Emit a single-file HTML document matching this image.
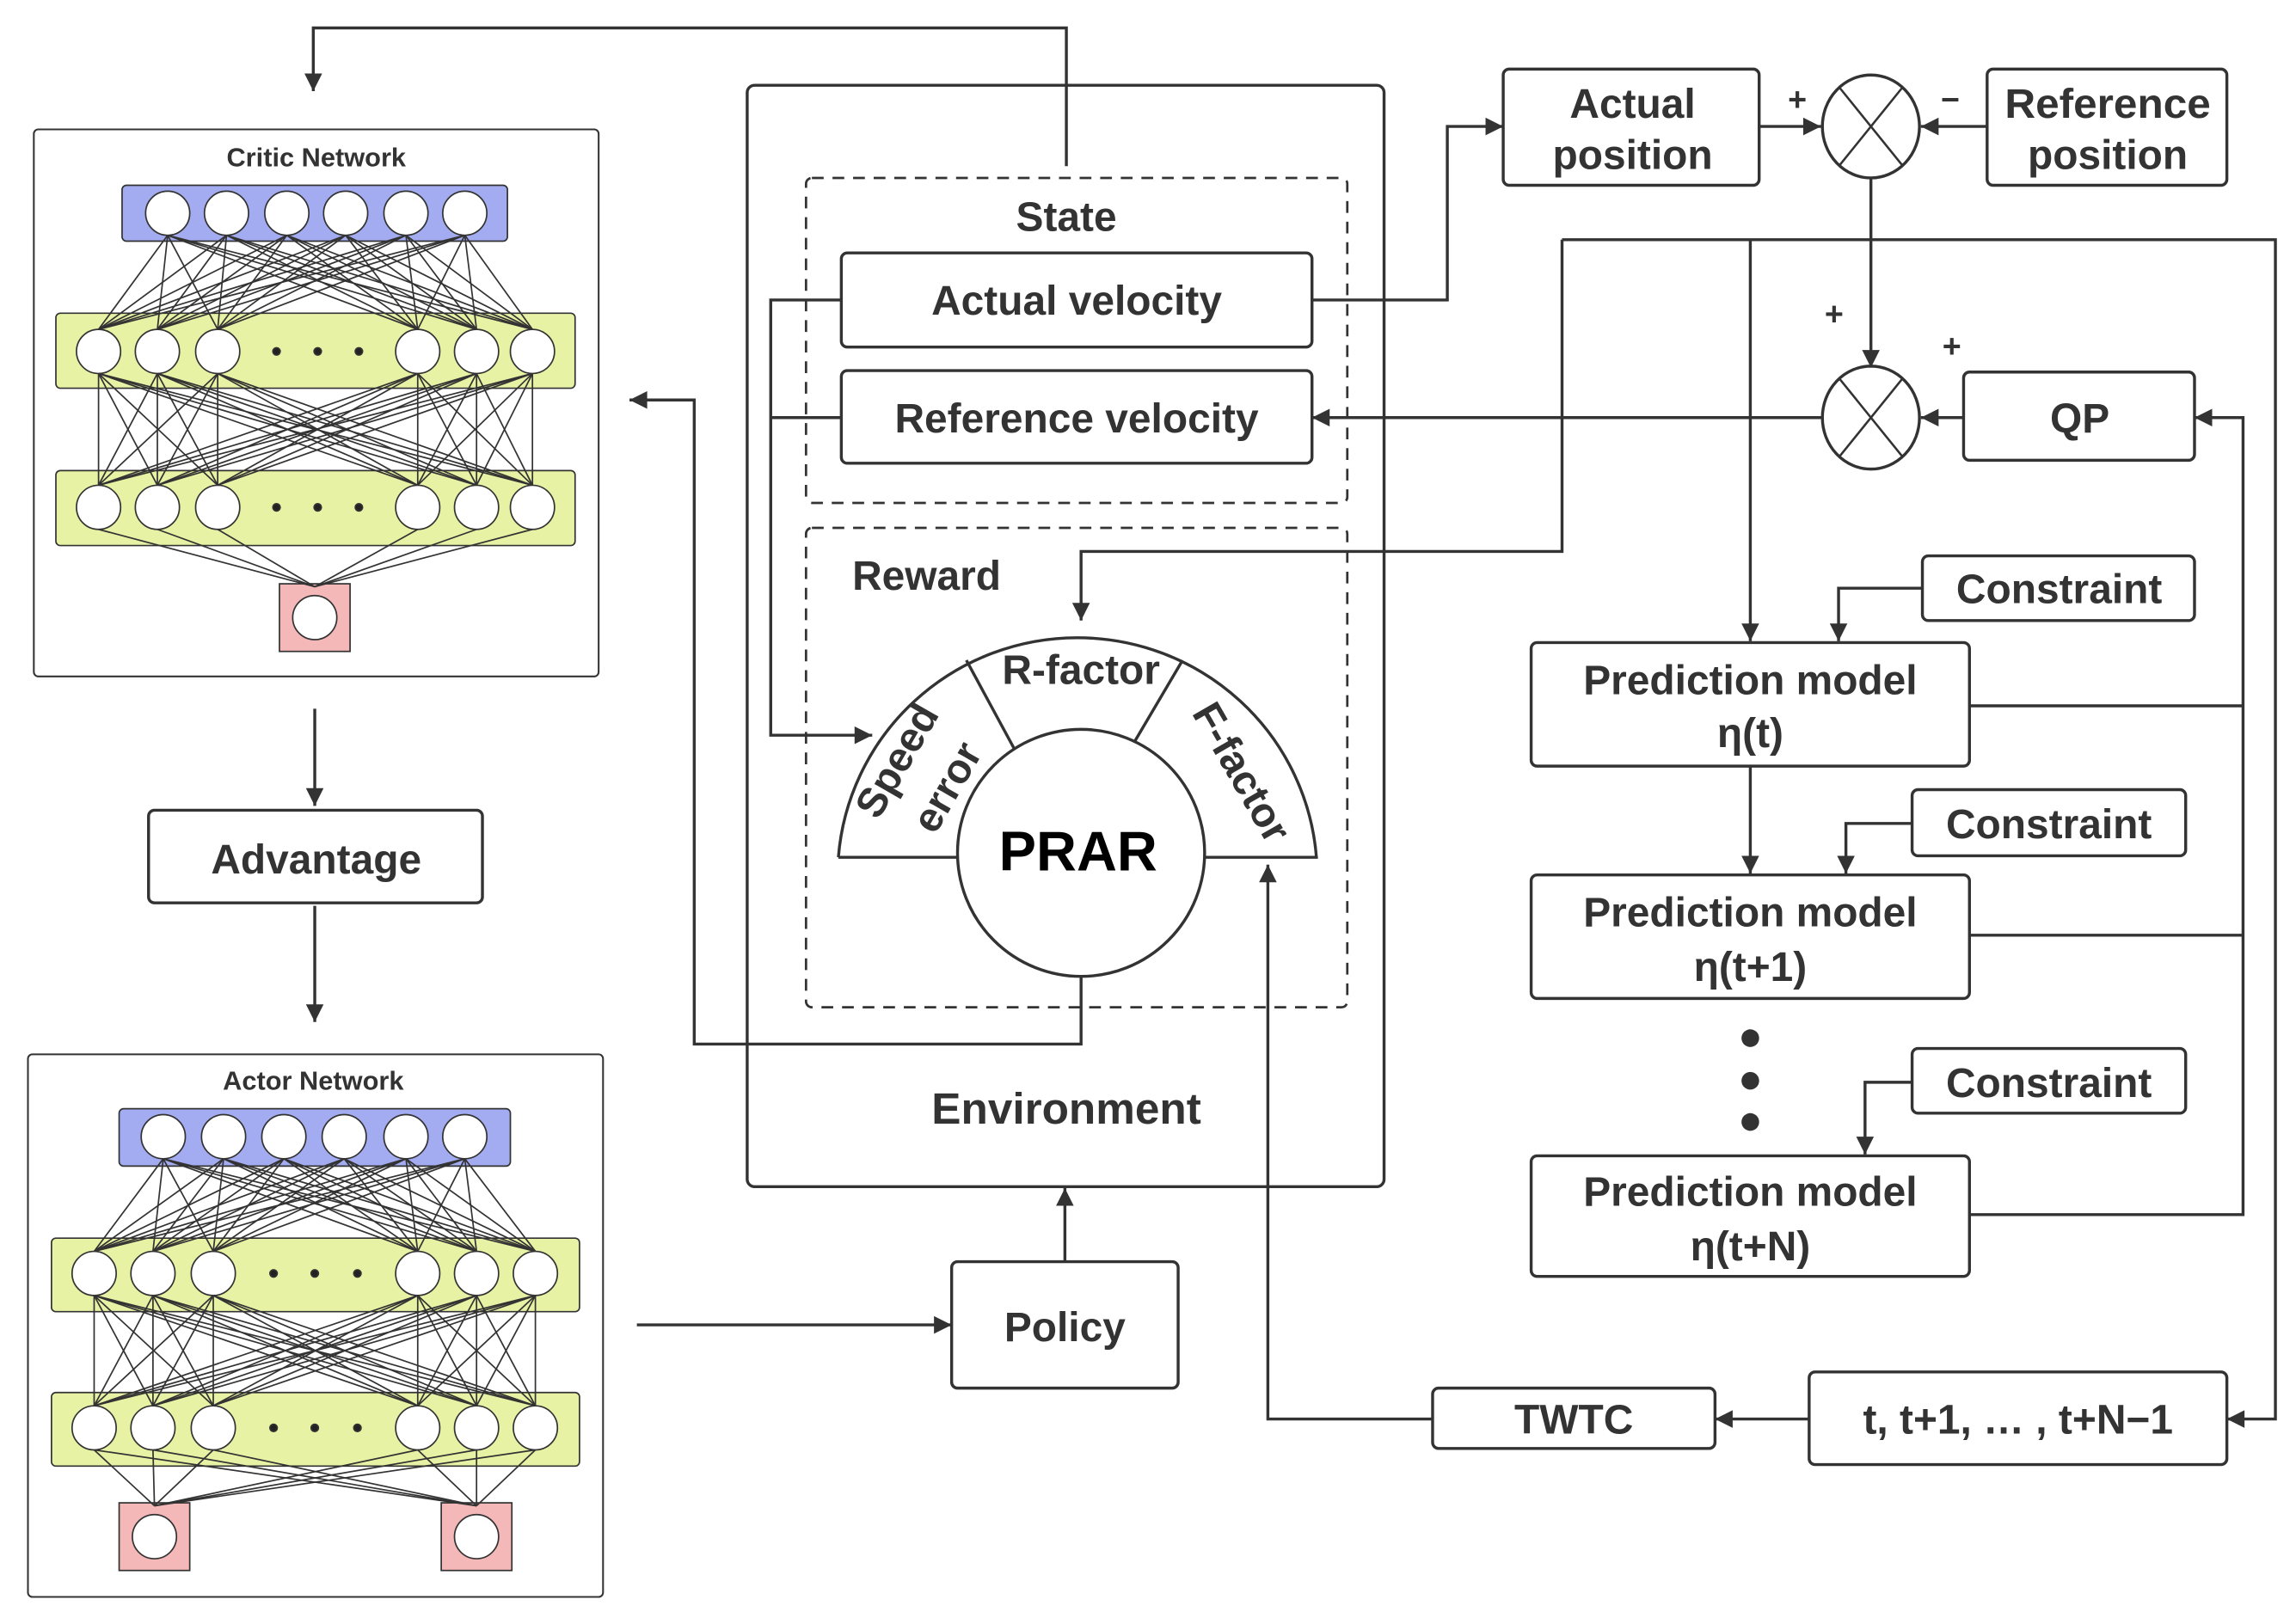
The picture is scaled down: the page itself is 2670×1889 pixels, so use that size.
<!DOCTYPE html>
<html><head><meta charset="utf-8"><style>
html,body{margin:0;padding:0;background:#fff}
svg{display:block}
text{font-family:"Liberation Sans",sans-serif;font-weight:bold;fill:#333}
</style></head><body>
<svg id="s" width="2670" height="1889" viewBox="0 0 1561 1104.4" preserveAspectRatio="none" xmlns="http://www.w3.org/2000/svg">
<defs>
<marker id="a" viewBox="0 0 10 10" refX="10" refY="5" markerWidth="8" markerHeight="6" orient="auto-start-reverse" markerUnits="strokeWidth"><path d="M0,0 L10,5 L0,10z" fill="#333"/></marker>
</defs>
<g id="nets" stroke="#333" stroke-width="1"></g>
<g fill="none" stroke="#333" stroke-width="2">
<rect x="23" y="88" width="384" height="372" rx="3" stroke-width="1.2"/>
<rect x="19" y="717" width="391" height="369" rx="3" stroke-width="1.2"/>
<path d="M214,482V548" marker-end="url(#a)"/>
<path d="M214,616V695" marker-end="url(#a)"/>
<path d="M725,113V19H213V62" marker-end="url(#a)"/>
<path d="M735,663V710H472V272H428" marker-end="url(#a)"/>
<path d="M433,901H647" marker-end="url(#a)"/>
<path d="M724,858V808" marker-end="url(#a)"/>
<rect x="101" y="551" width="227" height="63" rx="4"/>
<rect x="647" y="858" width="154" height="86" rx="4"/>
<rect x="508" y="58" width="433" height="749" rx="5"/>
<rect x="548" y="121" width="368" height="221" rx="4" stroke-dasharray="8,6" stroke-width="1.6"/>
<rect x="548" y="359" width="368" height="326" rx="4" stroke-dasharray="8,6" stroke-width="1.6"/>
<rect x="572" y="172" width="320" height="64" rx="4"/>
<rect x="572" y="252" width="320" height="63" rx="4"/>
<path d="M572,204H524V500H593" marker-end="url(#a)"/>
<path d="M572,284H524"/>
<path d="M570,583 A163,162 0 0 1 895,583 L817,583 M651,583 L570,583" fill="#fff"/>
<path d="M657,449L690,510M804,449L771,505"/>
<circle cx="735" cy="580" r="84" fill="#fff"/>
<path d="M1062,163H1547V965H1514" marker-end="url(#a)"/>
<path d="M1062,163V375H735V422" marker-end="url(#a)"/>
<path d="M1190,163V436" marker-end="url(#a)"/>
<path d="M892,204H984V86H1022" marker-end="url(#a)"/>
<rect x="1022" y="47" width="174" height="79" rx="4"/>
<rect x="1351" y="47" width="163" height="79" rx="4"/>
<path d="M1196,86H1238" marker-end="url(#a)"/>
<path d="M1351,86H1306" marker-end="url(#a)"/>
<ellipse cx="1272" cy="86" rx="33" ry="35"/>
<path d="M1251,60L1293,112M1293,60L1251,112" stroke-width="1.5"/>
<path d="M1272,121V250" marker-end="url(#a)"/>
<ellipse cx="1272" cy="284" rx="33" ry="35"/>
<path d="M1251,258L1293,310M1293,258L1251,310" stroke-width="1.5"/>
<rect x="1335" y="253" width="157" height="60" rx="4"/>
<path d="M1335,284H1306" marker-end="url(#a)"/>
<path d="M1239,284H892" marker-end="url(#a)"/>
<path d="M1339,480H1525M1339,636H1525M1339,826H1525V284H1492" marker-end="url(#a)"/>
<rect x="1307" y="378" width="185" height="44" rx="4"/>
<rect x="1300" y="537" width="186" height="45" rx="4"/>
<rect x="1300" y="713" width="186" height="44" rx="4"/>
<path d="M1307,400H1250V436" marker-end="url(#a)"/>
<path d="M1300,560H1255V594" marker-end="url(#a)"/>
<path d="M1300,736H1268V785" marker-end="url(#a)"/>
<rect x="1041" y="437" width="298" height="84" rx="4"/>
<rect x="1041" y="595" width="298" height="84" rx="4"/>
<rect x="1041" y="786" width="298" height="82" rx="4"/>
<path d="M1190,521V594" marker-end="url(#a)"/>
<rect x="1230" y="933" width="284" height="63" rx="4"/>
<rect x="974" y="944" width="192" height="41" rx="4"/>
<path d="M1230,965H1166" marker-end="url(#a)"/>
<path d="M974,965H862V588" marker-end="url(#a)"/>
</g>
<g fill="#333"><circle cx="1190" cy="706" r="6"/><circle cx="1190" cy="735" r="6"/><circle cx="1190" cy="763" r="6"/></g>
<g text-anchor="middle">
<text x="215" y="113" font-size="18">Critic Network</text>
<text x="213" y="741" font-size="18">Actor Network</text>
<text x="215" y="594" font-size="28">Advantage</text>
<text x="724" y="912" font-size="28">Policy</text>
<text x="725" y="764" font-size="30">Environment</text>
<text x="725" y="157" font-size="28">State</text>
<text x="732" y="214" font-size="28">Actual velocity</text>
<text x="732" y="294" font-size="28">Reference velocity</text>
<text x="630" y="401" font-size="28">Reward</text>
<text x="735" y="465" font-size="28">R-factor</text>
<text x="733" y="592" font-size="38" style="fill:#000">PRAR</text>
<text font-size="28" transform="translate(618,522) rotate(-60)">Speed</text>
<text font-size="28" transform="translate(652,540) rotate(-60)">error</text>
<text font-size="28" transform="translate(836,530) rotate(60)">F-factor</text>
<text x="1110" y="80" font-size="28">Actual</text>
<text x="1110" y="115" font-size="28">position</text>
<text x="1433" y="80" font-size="28" textLength="140" lengthAdjust="spacingAndGlyphs">Reference</text>
<text x="1433" y="115" font-size="28">position</text>
<text x="1222" y="75" font-size="22">+</text>
<text x="1326" y="75" font-size="22">−</text>
<text x="1247" y="221" font-size="22">+</text>
<text x="1327" y="243" font-size="22">+</text>
<text x="1414" y="294" font-size="28">QP</text>
<text x="1400" y="410" font-size="28">Constraint</text>
<text x="1393" y="570" font-size="28">Constraint</text>
<text x="1393" y="746" font-size="28">Constraint</text>
<text x="1190" y="472" font-size="28">Prediction model</text>
<text x="1190" y="508" font-size="28">η(t)</text>
<text x="1190" y="630" font-size="28">Prediction model</text>
<text x="1190" y="667" font-size="28">η(t+1)</text>
<text x="1190" y="820" font-size="28">Prediction model</text>
<text x="1190" y="857" font-size="28">η(t+N)</text>
<text x="1372" y="975" font-size="28">t, t+1, … , t+N−1</text>
<text x="1070" y="975" font-size="28">TWTC</text>
</g>
<script>
(function(){
var g=document.getElementById('nets'),NS='http://www.w3.org/2000/svg';
function el(n,a,p){var e=document.createElementNS(NS,n);for(var k in a)e.setAttribute(k,a[k]);(p||g).appendChild(e);return e;}
function net(o){
 el('rect',{x:o.bx,y:o.by1,width:o.bw,height:o.bh,rx:3,fill:'#a3acf0'});
 el('rect',{x:o.hx,y:o.hy1,width:o.hw,height:o.hh,rx:3,fill:'#e8f2a4'});
 el('rect',{x:o.hx,y:o.hy2,width:o.hw,height:o.hh,rx:3,fill:'#e8f2a4'});
 o.outs.forEach(function(x){el('rect',{x:x-24,y:o.py,width:48,height:46,fill:'#f4b8b8'});});
 var r=15;
 o.inx.forEach(function(a){o.hxs.forEach(function(b){el('line',{x1:a,y1:o.iy+r,x2:b,y2:o.h1y-r});});});
 o.hxs.forEach(function(a){o.hxs.forEach(function(b){el('line',{x1:a,y1:o.h1y+r,x2:b,y2:o.h2y-r});});});
 o.hxs.forEach(function(a){o.outs.forEach(function(b){el('line',{x1:a,y1:o.h2y+r,x2:b,y2:o.py+2});});});
 o.inx.forEach(function(x){el('circle',{cx:x,cy:o.iy,r:r,fill:'#fff'});});
 [o.h1y,o.h2y].forEach(function(y){o.hxs.forEach(function(x){el('circle',{cx:x,cy:y,r:r,fill:'#fff'});});
  o.dots.forEach(function(x){el('circle',{cx:x,cy:y,r:2.5,fill:'#222'});});});
 o.outs.forEach(function(x){el('circle',{cx:x,cy:o.py+23,r:r,fill:'#fff'});});
}
net({bx:83,by1:126,bw:262,bh:38,hx:38,hy1:213,hw:353,hh:51,hy2:320,
 inx:[114,154,195,235,276,316],iy:145,hxs:[67,107,148,284,324,362],dots:[188,216,244],h1y:239,h2y:345,outs:[214],py:397});
net({bx:81,by1:754,bw:266,bh:39,hx:35,hy1:842,hw:359,hh:50,hy2:947,
 inx:[111,152,193,234,276,316],iy:773,hxs:[64,104,145,284,324,364],dots:[186,214,243],h1y:866,h2y:971,outs:[105,324],py:1022});
})();
</script>
</svg>
</body></html>
